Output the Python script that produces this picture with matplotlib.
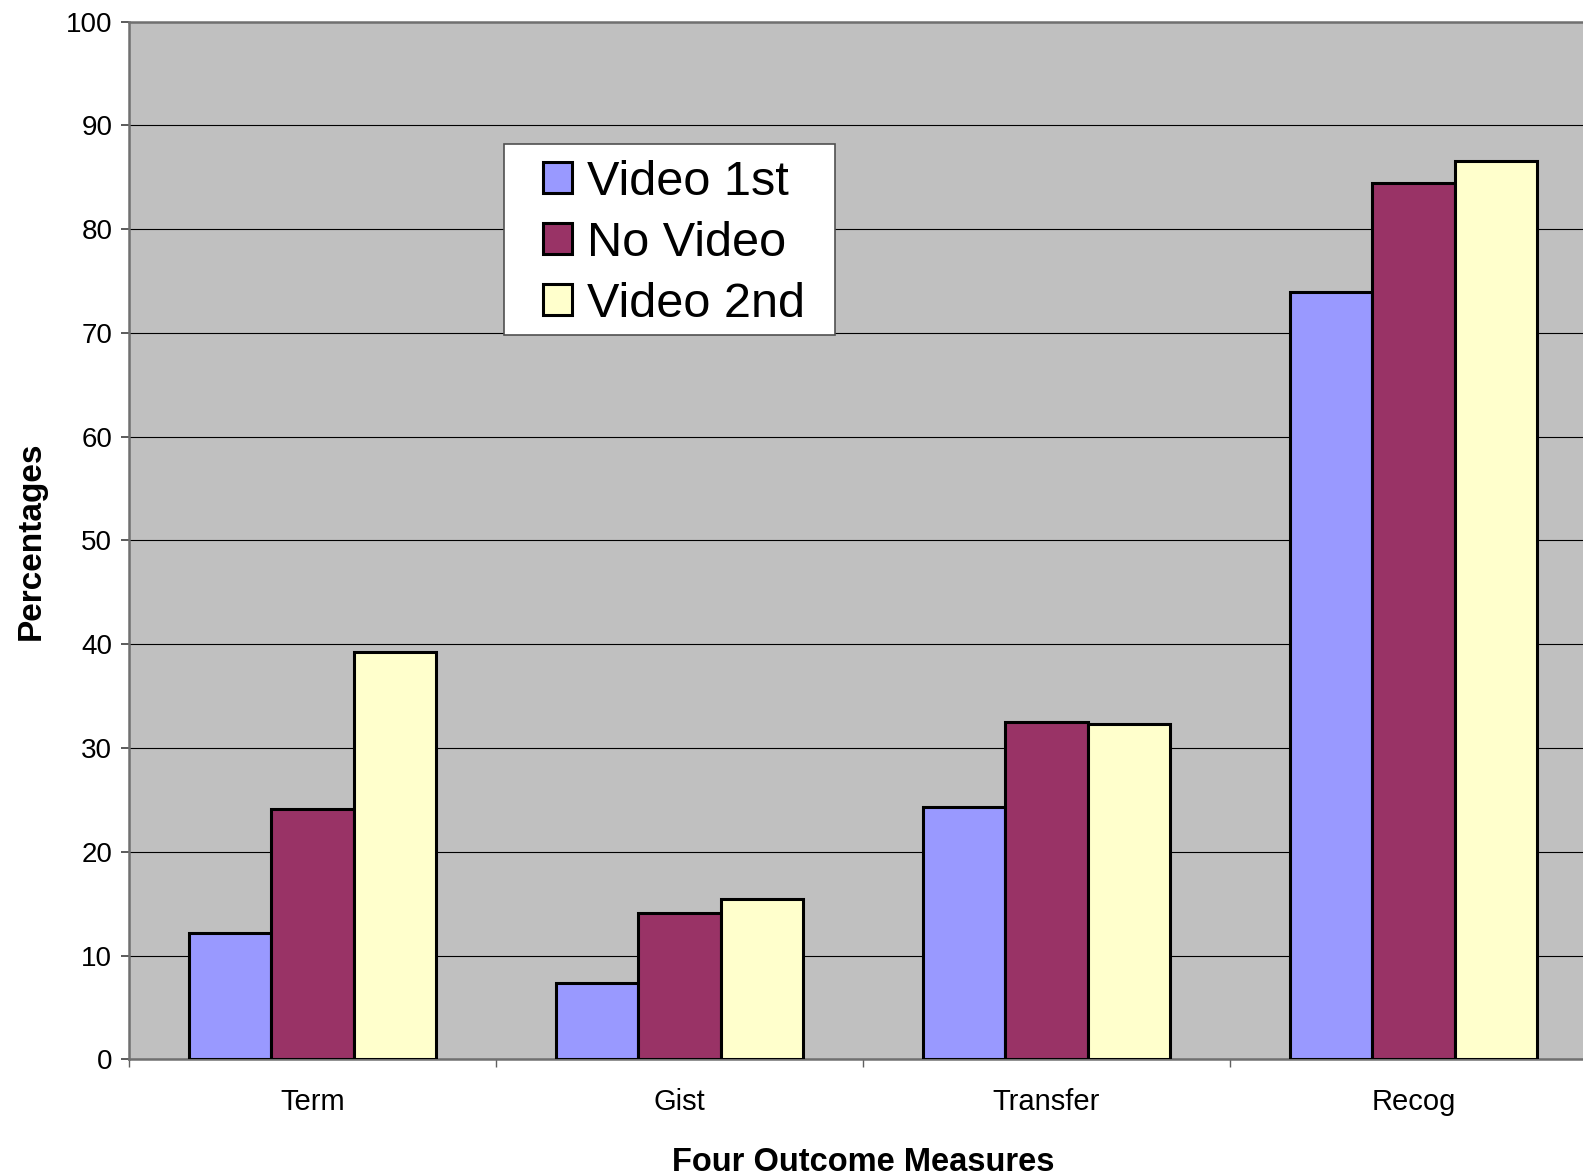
import matplotlib.pyplot as plt
from matplotlib.patches import Rectangle
import numpy as np

plt.rcParams['font.family'] = ['Liberation Sans', 'DejaVu Sans']

# data
measures = ['Term', 'Gist', 'Transfer', 'Recog']
video_1st = [12.2, 7.4, 24.3, 73.9]
no_video = [24.1, 14.1, 32.5, 84.4]
video_2nd = [39.2, 15.4, 32.3, 86.6]
y_ticks = [0, 10, 20, 30, 40, 50, 60, 70, 80, 90, 100]

series = [('Video 1st', video_1st, '#9999FF'),
          ('No Video', no_video, '#993366'),
          ('Video 2nd', video_2nd, '#FFFFCC')]

fig = plt.figure(figsize=(15.83, 11.76), dpi=100)
# plot area runs a little past the right edge of the figure
ax = fig.add_axes([129/1583, 1 - 1059.3/1176, 1468/1583, (1059.3 - 21.5)/1176])
ax.set_facecolor('#C0C0C0')

x = np.arange(len(measures))
w = 0.224
for i, (name, vals, col) in enumerate(series):
    ax.bar(x + (i - 1)*w, vals, w, color=col, edgecolor='black',
           linewidth=2.2, label=name, zorder=3)

ax.set_xlim(-0.5, len(measures) - 0.5)
ax.set_ylim(0, 100)
ax.set_yticks(y_ticks)
ax.set_yticklabels([str(t) for t in y_ticks], fontsize=20)
ax.yaxis.grid(True, color='black', linewidth=0.8, zorder=1)
ax.set_axisbelow(True)

# category labels centred, tick marks between groups
ax.set_xticks(x)
ax.set_xticklabels(measures, fontsize=21)
ax.tick_params(axis='x', length=0, pad=21)
ax.set_xticks(np.arange(-0.5, len(measures)), minor=True)
ax.tick_params(axis='x', which='minor', length=6, width=1, color='#606060')
ax.tick_params(axis='y', length=6, width=1.2, color='#404040', pad=6)

for s in ['left', 'bottom', 'top']:
    ax.spines[s].set_color('#707070')
    ax.spines[s].set_linewidth(1.8)
ax.spines['right'].set_visible(False)

ax.set_xlabel('Four Outcome Measures', fontsize=23.5, fontweight='bold', labelpad=22)
ax.set_ylabel('Percentages', fontsize=24, fontweight='bold', labelpad=14)

# legend box drawn separately so the side padding can be wider
box_l, box_r = (504 - 129)/1468, (835 - 129)/1468
box_t, box_b = 1 - (144 - 21.5)/1037.8, 1 - (335 - 21.5)/1037.8
ax.add_patch(Rectangle((box_l, box_b), box_r - box_l, box_t - box_b,
                       transform=ax.transAxes, facecolor='white',
                       edgecolor='#505050', linewidth=1.2, zorder=4))
leg = ax.legend(loc='upper left', bbox_to_anchor=((543 - 129)/1468, box_t - 0.015),
                fontsize=35, frameon=False, handlelength=0.6, handleheight=0.6,
                handletextpad=0.3, labelspacing=0.33, borderpad=0, borderaxespad=0)
leg.set_zorder(5)

fig.savefig('out.png', dpi=100)
